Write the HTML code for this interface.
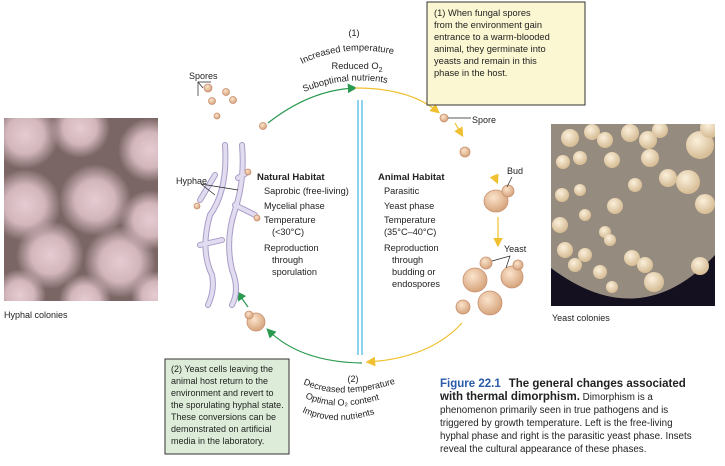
<!DOCTYPE html>
<html><head><meta charset="utf-8"><style>
body{margin:0;width:725px;height:461px;background:#fff;overflow:hidden;font-family:"Liberation Sans",sans-serif}
svg text{font-family:"Liberation Sans",sans-serif;fill:#222}
</style></head><body>
<svg width="725" height="461" viewBox="0 0 725 461" xmlns="http://www.w3.org/2000/svg">
<defs>
<radialGradient id="pk" cx="50%" cy="50%" r="50%"><stop offset="0" stop-color="#e6ccd2"/><stop offset="0.55" stop-color="#d2b6bc"/><stop offset="1" stop-color="#d2b6bc" stop-opacity="0"/></radialGradient>
<radialGradient id="col" cx="40%" cy="35%" r="60%"><stop offset="0" stop-color="#fbf0dc"/><stop offset="1" stop-color="#d8bf98"/></radialGradient>
<radialGradient id="cell" cx="40%" cy="35%" r="65%"><stop offset="0" stop-color="#fbe4cc"/><stop offset="1" stop-color="#d6a47c"/></radialGradient>
<clipPath id="lc"><rect x="4" y="118" width="154" height="183"/></clipPath>
<clipPath id="rc"><rect x="551" y="124" width="164" height="182"/></clipPath>
<marker id="ag" markerWidth="8" markerHeight="8" refX="6" refY="4" orient="auto"><path d="M0,0 L8,4 L0,8z" fill="#2a9a50"/></marker>
<marker id="ay" markerWidth="8" markerHeight="8" refX="6" refY="4" orient="auto"><path d="M0,0 L8,4 L0,8z" fill="#f0c030"/></marker>
</defs>
<!-- left photo -->
<g clip-path="url(#lc)">
<rect x="4" y="118" width="154" height="183" fill="#7a6664"/>
<g fill="url(#pk)">
<circle cx="25" cy="135" r="34"/><circle cx="80" cy="128" r="30"/><circle cx="150" cy="150" r="32"/>
<circle cx="25" cy="205" r="36"/><circle cx="95" cy="200" r="36"/><circle cx="150" cy="220" r="30"/>
<circle cx="50" cy="255" r="34"/><circle cx="120" cy="262" r="36"/><circle cx="20" cy="295" r="26"/><circle cx="85" cy="300" r="26"/><circle cx="155" cy="295" r="24"/>
</g>
</g>
<text x="4" y="318" font-size="9">Hyphal colonies</text>
<!-- right photo -->
<g clip-path="url(#rc)">
<rect x="551" y="124" width="164" height="182" fill="#958b7e"/>
<path d="M551,268 Q640,335 715,255 L715,306 L551,306z" fill="#151020"/>
<g fill="url(#col)">
<circle cx="570" cy="138" r="9"/><circle cx="592" cy="132" r="8"/><circle cx="605" cy="140" r="8"/><circle cx="630" cy="133" r="9"/><circle cx="648" cy="140" r="9"/><circle cx="660" cy="130" r="8"/><circle cx="700" cy="145" r="14"/><circle cx="710" cy="128" r="10"/>
<circle cx="563" cy="162" r="7"/><circle cx="580" cy="158" r="7"/><circle cx="612" cy="160" r="8"/><circle cx="650" cy="158" r="9"/><circle cx="688" cy="182" r="12"/><circle cx="668" cy="178" r="9"/>
<circle cx="562" cy="195" r="7"/><circle cx="580" cy="190" r="6"/><circle cx="635" cy="185" r="7"/><circle cx="705" cy="204" r="10"/>
<circle cx="560" cy="225" r="8"/><circle cx="585" cy="215" r="6"/><circle cx="615" cy="206" r="8"/><circle cx="605" cy="232" r="6"/>
<circle cx="565" cy="250" r="8"/><circle cx="585" cy="255" r="7"/><circle cx="610" cy="240" r="6"/><circle cx="632" cy="258" r="8"/><circle cx="645" cy="265" r="8"/>
<circle cx="575" cy="265" r="7"/><circle cx="600" cy="272" r="7"/><circle cx="654" cy="282" r="10"/><circle cx="700" cy="266" r="9"/><circle cx="612" cy="287" r="6"/>
</g>
</g>
<text x="552" y="321" font-size="9">Yeast colonies</text>
<!-- center divider -->
<rect x="357" y="100" width="2" height="255" fill="#8fd0ea"/><rect x="361" y="100" width="2" height="255" fill="#8fd0ea"/>
<!-- arcs -->
<path d="M268,123 Q310,90 355,88" fill="none" stroke="#2a9a50" stroke-width="1.2" marker-end="url(#ag)"/>
<path d="M355,88 Q410,88 438,112" fill="none" stroke="#f0c030" stroke-width="1.2" marker-end="url(#ay)"/>
<path d="M455,123 L462,135" stroke="#f0c030" stroke-width="1.2" marker-end="url(#ay)"/>
<path d="M494,175 L497,182" stroke="#f0c030" stroke-width="1.2" marker-end="url(#ay)"/>
<path d="M498,217 L498,245" stroke="#f0c030" stroke-width="1.2" marker-end="url(#ay)"/>
<path d="M462,323 Q430,358 368,362" fill="none" stroke="#f0c030" stroke-width="1.2" marker-end="url(#ay)"/>
<path d="M362,363 Q300,362 268,330" fill="none" stroke="#2a9a50" stroke-width="1.2" marker-end="url(#ag)"/>
<path d="M248,307 L238,293" stroke="#2a9a50" stroke-width="1.2" marker-end="url(#ag)"/>
<!-- hyphae -->
<g fill="none" stroke-linecap="round">
<g stroke="#a99cc8" stroke-width="6">
<path d="M225,145 Q228,190 210,215 Q200,250 212,275 Q215,290 208,305"/>
<path d="M242,145 Q245,180 235,210 Q225,240 232,270 Q240,290 232,305"/>
<path d="M215,175 L200,200"/><path d="M235,205 L255,215"/><path d="M222,240 L200,245"/><path d="M238,178 L248,172"/>
</g>
<g stroke="#e2dcf0" stroke-width="4">
<path d="M225,145 Q228,190 210,215 Q200,250 212,275 Q215,290 208,305"/>
<path d="M242,145 Q245,180 235,210 Q225,240 232,270 Q240,290 232,305"/>
<path d="M215,175 L200,200"/><path d="M235,205 L255,215"/><path d="M222,240 L200,245"/><path d="M238,178 L248,172"/>
</g>
</g>
<g fill="url(#cell)" stroke="#c89070" stroke-width="0.8">
<circle cx="208" cy="88" r="4"/><circle cx="226" cy="92" r="3.5"/><circle cx="212" cy="101" r="3.5"/><circle cx="233" cy="100" r="3.5"/><circle cx="217" cy="116" r="3"/><circle cx="263" cy="126" r="3.5"/>
<circle cx="248" cy="172" r="3"/><circle cx="197" cy="206" r="3"/><circle cx="257" cy="218" r="3"/>
<circle cx="444" cy="118" r="4"/><circle cx="465" cy="152" r="5"/>
<ellipse cx="496" cy="201" rx="12" ry="11"/><circle cx="508" cy="191" r="6"/>
<circle cx="486" cy="263" r="6"/><circle cx="512" cy="277" r="11"/><circle cx="518" cy="265" r="5"/>
<circle cx="475" cy="280" r="12"/><circle cx="490" cy="303" r="12"/><circle cx="463" cy="307" r="7"/>
<circle cx="256" cy="322" r="9"/><circle cx="249" cy="315" r="4"/>
</g>
<!-- labels -->
<text x="189" y="79" font-size="9">Spores</text>
<path d="M211,82 L198,82 L198,96 M198,82 L203,88" stroke="#222" fill="none" stroke-width="0.7"/>
<text x="176" y="184" font-size="9">Hyphae</text>
<path d="M201,184 L215,195 M201,184 L238,190" stroke="#222" fill="none" stroke-width="0.7"/>
<text x="257" y="180" font-size="9.5" font-weight="bold">Natural Habitat</text>
<g font-size="9.2">
<text x="264" y="194">Saprobic (free-living)</text><text x="264" y="209">Mycelial phase</text><text x="264" y="223">Temperature</text><text x="272" y="235">(&lt;30°C)</text>
<text x="264" y="251">Reproduction</text><text x="272" y="263">through</text><text x="272" y="275">sporulation</text>
</g>
<text x="378" y="180" font-size="9.5" font-weight="bold">Animal Habitat</text>
<g font-size="9.2">
<text x="384" y="194">Parasitic</text><text x="384" y="209">Yeast phase</text><text x="384" y="223">Temperature</text><text x="384" y="235">(35°C–40°C)</text>
<text x="384" y="251">Reproduction</text><text x="392" y="263">through</text><text x="392" y="275">budding or</text><text x="392" y="287">endospores</text>
</g>
<text x="472" y="123" font-size="9">Spore</text><path d="M448,118 L471,118" stroke="#222" stroke-width="0.7"/>
<text x="507" y="174" font-size="9">Bud</text><path d="M512,177 L507,187" stroke="#222" stroke-width="0.7"/>
<text x="504" y="252" font-size="9">Yeast</text><path d="M492,261 L510,256 L506,268" stroke="#222" fill="none" stroke-width="0.7"/>
<!-- top transition text -->
<text x="354" y="36" font-size="9" text-anchor="middle">(1)</text>
<path id="t1" d="M302,64 Q355,38 420,62" fill="none"/><text font-size="9.3"><textPath href="#t1">Increased temperature</textPath></text>
<text x="357" y="69" font-size="9.3" text-anchor="middle">Reduced O<tspan font-size="7" dy="3">2</tspan></text>
<path id="t2" d="M304,92 Q358,70 412,90" fill="none"/><text font-size="9.3"><textPath href="#t2">Suboptimal nutrients</textPath></text>
<!-- bottom transition text -->
<text x="353" y="382" font-size="9" text-anchor="middle">(2)</text>
<path id="b1" d="M303,384 Q340,402 400,382" fill="none"/><text font-size="9"><textPath href="#b1">Decreased temperature</textPath></text>
<path id="b2" d="M305,398 Q340,414 390,396" fill="none"/><text font-size="9"><textPath href="#b2">Optimal O₂ content</textPath></text>
<path id="b3" d="M302,412 Q340,430 390,408" fill="none"/><text font-size="9"><textPath href="#b3">Improved nutrients</textPath></text>
<!-- boxes -->
<rect x="427" y="2" width="158" height="103" fill="#fbf7d2" stroke="#333" stroke-width="1"/>
<g font-size="9.3"><text x="434" y="16">(1) When fungal spores</text><text x="434" y="28">from the environment gain</text><text x="434" y="40">entrance to a warm-blooded</text><text x="434" y="52">animal, they germinate into</text><text x="434" y="64">yeasts and remain in this</text><text x="434" y="76">phase in the host.</text></g>
<rect x="165" y="359" width="124" height="95" fill="#dcecd8" stroke="#333" stroke-width="1"/>
<g font-size="9"><text x="171" y="372">(2) Yeast cells leaving the</text><text x="171" y="384">animal host return to the</text><text x="171" y="396">environment and revert to</text><text x="171" y="408">the sporulating hyphal state.</text><text x="171" y="420">These conversions can be</text><text x="171" y="432">demonstrated on artificial</text><text x="171" y="444">media in the laboratory.</text></g>
<!-- caption -->
<text x="440" y="387" font-size="11.5" font-weight="bold"><tspan fill="#2a5aa8">Figure 22.1</tspan><tspan dx="8">The general changes associated</tspan></text>
<text x="440" y="400" font-size="9.8"><tspan font-weight="bold" font-size="11.5">with thermal dimorphism.</tspan> Dimorphism is a</text>
<g font-size="9.8"><text x="440" y="413">phenomenon primarily seen in true pathogens and is</text><text x="440" y="426">triggered by growth temperature. Left is the free-living</text><text x="440" y="439">hyphal phase and right is the parasitic yeast phase. Insets</text><text x="440" y="452">reveal the cultural appearance of these phases.</text></g>
</svg>
</body></html>
